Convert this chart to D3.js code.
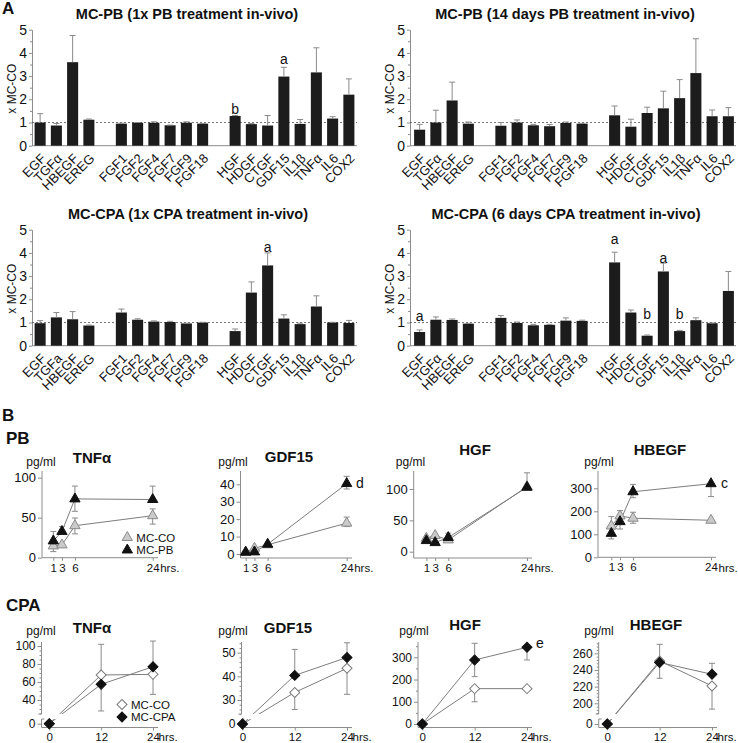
<!DOCTYPE html>
<html><head><meta charset="utf-8">
<script src="https://cdn.jsdelivr.net/npm/d3@7"></script>
<style>body{margin:0;background:#fff}svg{display:block}</style>
</head><body>
<svg id="c" width="738" height="743"></svg>
<script>
// ================= DATA =================
const catsGF = ["EGF","TGFα","HBEGF","EREG"];
const catsFGF = ["FGF1","FGF2","FGF4","FGF7","FGF9","FGF18"];
const catsOther = ["HGF","HDGF","CTGF","GDF15","IL1β","TNFα","IL6","COX2"];
const categories = [...catsGF, ...catsFGF, ...catsOther];
const labelsCPA1 = ["EGF","TGFa","HBEGF","EREG", ...catsFGF, ...catsOther];
const yTicksA = [0,1,2,3,4,5];

const pb1Values = [1.0,0.87,3.6,1.12, 0.95,0.99,0.99,0.88,0.99,0.95, 1.28,0.93,0.87,2.98,0.94,3.16,1.17,2.2];
const pb1Errors = [0.38,0.09,1.15,0.03, 0.02,0.01,0.04,0.01,0.04,0.01, 0.02,0.03,0.43,0.40,0.19,1.06,0.08,0.68];
const pb1Notes = [{cat:"HGF",text:"b",level:1.37},{cat:"GDF15",text:"a",level:3.51}];

const pb14Values = [0.69,1.0,1.95,0.95, 0.86,1.0,0.88,0.84,0.98,0.95, 1.31,0.82,1.41,1.61,2.05,3.13,1.27,1.27];
const pb14Errors = [0.23,0.53,0.79,0.07, 0.14,0.11,0.04,0.07,0.04,0.01, 0.40,0.32,0.25,0.74,0.80,1.48,0.27,0.37];

const cpa1Values = [0.97,1.22,1.14,0.87, 1.43,1.12,1.04,1.02,0.96,1.0, 0.63,2.29,3.46,1.17,0.93,1.69,1.0,0.98];
const cpa1Errors = [0.11,0.21,0.33,0.02, 0.15,0.04,0.03,0.03,0.01,0.01, 0.09,0.46,0.54,0.16,0.04,0.46,0.01,0.11];
const cpa1Notes = [{cat:"CTGF",text:"a",level:4.05}];

const cpa6Values = [0.59,1.12,1.11,0.95, 1.2,0.98,0.88,0.9,1.08,1.07, 3.59,1.43,0.43,3.2,0.63,1.1,0.97,2.36];
const cpa6Errors = [0.09,0.12,0.04,0.01, 0.1,0.04,0.04,0.02,0.12,0.03, 0.44,0.11,0.03,0.36,0.03,0.1,0.01,0.84];
const cpa6Notes = [{cat:"EGF",text:"a",level:1.08},{cat:"HGF",text:"a",level:4.38},{cat:"CTGF",text:"b",level:1.14},{cat:"GDF15",text:"a",level:3.58},{cat:"IL1β",text:"b",level:1.14}];

// time courses
const pbHours = [1,3,6,24];
const cpaHours = [0,12,24];

const pbTnfCO = [14.7,16,40,52.5], pbTnfCOLo = [7.6,null,29.8,42], pbTnfCOHi = [null,null,49.6,61];
const pbTnfPB = [21,32.8,73.5,72.7], pbTnfPBLo = [null,null,58,null], pbTnfPBHi = [32.8,39,89.5,89.5];

const pbGdfCO = [1.2,3.3,5.3,17.7], pbGdfCOLo = [null,null,null,15.8], pbGdfCOHi = [null,null,null,21.2];
const pbGdfPB = [1.0,1.2,5.6,40.4], pbGdfPBLo = [null,null,null,37.3], pbGdfPBHi = [null,null,null,44.6];

const pbHgfCO = [21.5,25.8,18.8,103.8], pbHgfCOLo = [null,null,null,null], pbHgfCOHi = [null,null,null,125.8];
const pbHgfPB = [17.7,14.5,22.6,102.7], pbHgfPBLo = [null,null,null,null], pbHgfPBHi = [null,null,29.6,null];

const pbHbCO = [136,180,170,161], pbHbCOLo = [null,null,148,null], pbHbCOHi = [177,203,196,null];
const pbHbPB = [104,155,285,320], pbHbPBLo = [80,123,259,264], pbHbPBHi = [null,null,317,null];

const cpaTnfCO = [0,67.8,68.5], cpaTnfCOLo = [null,null,46.3], cpaTnfCOHi = [null,101.9,null];
const cpaTnfCPA = [0,57.4,77], cpaTnfCPALo = [null,27.8,null], cpaTnfCPAHi = [null,null,105.5];

const cpaGdfCO = [0,33.2,43.4], cpaGdfCOLo = [null,26,32.4], cpaGdfCOHi = [null,null,null];
const cpaGdfCPA = [0,40.4,48], cpaGdfCPALo = [null,null,null], cpaGdfCPAHi = [null,51.4,54.2];

const cpaHgfCO = [0,159,159], cpaHgfCOLo = [null,100,null], cpaHgfCOHi = [null,null,null];
const cpaHgfCPA = [0,288,345], cpaHgfCPALo = [null,213,288], cpaHgfCPAHi = [null,363,null];

const cpaHbCO = [0,250.8,220.8], cpaHbCOLo = [null,null,193], cpaHbCOHi = [null,null,null];
const cpaHbCPA = [0,249,234.8], cpaHbCPALo = [null,230,null], cpaHbCPAHi = [null,270.8,248];

// ================= DRAW =================
const FONT = '"Liberation Sans", Arial, Helvetica, sans-serif';
const AX = "#8c8c8c";
const svg = d3.select("#c").attr("font-family", FONT);
const defs = svg.append("defs");
const slots = [...catsGF, "_g1", ...catsFGF, "_g2", ...catsOther];
const fmt = d3.format("~g");

function txt(g, x, y, s, o = {}) {
  return g.append("text").attr("x", x).attr("y", y).text(s)
    .attr("font-size", o.size || 12).attr("font-weight", o.bold ? "bold" : null)
    .attr("text-anchor", o.anchor || "middle").attr("fill", o.fill || "#111");
}
function styleAxisText(sel, size) {
  sel.selectAll("text").attr("font-size", size).attr("font-family", FONT).attr("fill", "#111");
}

function barPanel(p) {
  const g = svg.append("g");
  const x = d3.scaleBand().domain(slots).range([p.x0, p.x0 + 325]).paddingInner(0.32).paddingOuter(0.16);
  const y = d3.scaleLinear().domain([0, 5]).range([p.yBase, p.yBase - 116]);
  const bw = x.bandwidth();
  g.append("g").attr("transform", `translate(${p.axisX},0)`).attr("color", AX)
    .call(d3.axisLeft(y).tickValues(d3.range(0.5, 5, 1)).tickSize(2).tickFormat(""))
    .call(s => s.select(".domain").remove());
  const ya = g.append("g").attr("transform", `translate(${p.axisX},0)`).attr("color", AX)
    .call(d3.axisLeft(y).tickValues(yTicksA).tickFormat(fmt).tickSize(3).tickSizeOuter(0).tickPadding(2));
  styleAxisText(ya, 14);
  g.append("line").attr("x1", p.axisX).attr("x2", p.xEnd).attr("y1", y(0)).attr("y2", y(0)).attr("stroke", AX);
  g.append("line").attr("x1", p.axisX).attr("x2", p.xEnd).attr("y1", y(1)).attr("y2", y(1))
    .attr("stroke", "#555").attr("stroke-width", 0.8).attr("stroke-dasharray", "2,2");
  const data = categories.map((c, i) => ({c, v: p.values[i], e: p.errors[i], lab: p.labels[i]}));
  g.selectAll("rect.bar").data(data).join("rect").attr("class", "bar")
    .attr("x", d => x(d.c)).attr("width", bw)
    .attr("y", d => y(d.v)).attr("height", d => y(0) - y(d.v)).attr("fill", "#1c1c1c");
  const eb = g.append("g").attr("stroke", "#8a8a8a").attr("stroke-width", 1);
  data.forEach(d => {
    const cx = x(d.c) + bw / 2;
    eb.append("line").attr("x1", cx).attr("x2", cx).attr("y1", y(d.v)).attr("y2", y(d.v + d.e));
    eb.append("line").attr("x1", cx - 3).attr("x2", cx + 3).attr("y1", y(d.v + d.e)).attr("y2", y(d.v + d.e));
  });
  data.forEach(d => {
    const cx = x(d.c) + bw / 2;
    g.append("text").attr("transform", `translate(${cx + 1},${p.yBase + 8}) rotate(-45)`)
      .attr("text-anchor", "end").attr("dy", "0.6em").attr("font-size", 13).attr("fill", "#111").text(d.lab);
  });
  (p.notes || []).forEach(n => txt(g, x(n.cat) + bw / 2, y(n.level), n.text, {size: 14}));
  txt(g, p.titleX, p.yBase - 127, p.title, {size: 14.5, bold: true});
  g.append("text").attr("transform", `translate(${p.axisX - 16},${p.yBase - 57}) rotate(-90)`)
    .attr("text-anchor", "middle").attr("font-size", 12).attr("fill", "#111").text("x MC-CO");
}

barPanel({x0: 32, axisX: 32, xEnd: 357, yBase: 145.7, titleX: 187, title: "MC-PB (1x PB treatment in-vivo)",
  labels: categories, values: pb1Values, errors: pb1Errors, notes: pb1Notes});
barPanel({x0: 411.5, axisX: 410, xEnd: 736, yBase: 145.7, titleX: 565, title: "MC-PB (14 days PB treatment in-vivo)",
  labels: categories, values: pb14Values, errors: pb14Errors, notes: []});
barPanel({x0: 32, axisX: 32, xEnd: 357, yBase: 345.7, titleX: 188, title: "MC-CPA (1x CPA treatment in-vivo)",
  labels: labelsCPA1, values: cpa1Values, errors: cpa1Errors, notes: cpa1Notes});
barPanel({x0: 411.5, axisX: 410, xEnd: 736, yBase: 345.7, titleX: 566, title: "MC-CPA (6 days CPA treatment in-vivo)",
  labels: categories, values: cpa6Values, errors: cpa6Errors, notes: cpa6Notes});

// ---- line charts ----
const triSym = d3.symbol(d3.symbolTriangle, 46);
const diaSym = d3.symbol(d3.symbolSquare, 50);
const COtri = {sym: "tri", fill: "#cacaca", stroke: "#8a8a8a"};
const TRtri = {sym: "tri", fill: "#111", stroke: "#111"};
const COdia = {sym: "dia", fill: "#fff", stroke: "#7a7a7a"};
const TRdia = {sym: "dia", fill: "#111", stroke: "#111"};

function marker(g, st, px, py) {
  const p = g.append("path").attr("d", st.sym === "tri" ? triSym() : diaSym())
    .attr("fill", st.fill).attr("stroke", st.stroke).attr("stroke-width", 1);
  p.attr("transform", `translate(${px},${py})` + (st.sym === "dia" ? " rotate(45)" : ""));
}

let clipN = 0;
function lineChart(c) {
  const g = svg.append("g");
  const x = d3.scaleLinear().domain([0, 24]).range([c.x0, c.x24]);
  let yUp, yMap, yLow = null;
  yUp = d3.scaleLinear().domain(c.yDom).range(c.yRng);
  if (c.zeroY) {
    yLow = d3.scaleLinear().domain([0, 1]).range([c.zeroY, c.zeroY - 1]);
    yMap = v => (v < c.yDom[0] * 0.5 ? yLow(v) : yUp(v));
  } else yMap = yUp;

  const ax = g.append("g").attr("transform", `translate(${c.axisX},0)`).attr("color", AX);
  ax.call(d3.axisLeft(yUp).tickValues(c.ticks).tickFormat(fmt).tickSize(4).tickSizeOuter(0).tickPadding(2));
  ax.select(".domain").remove();
  if (c.minor) {
    const mn = ax.append("g").call(d3.axisLeft(yUp).tickValues(c.minor).tickSize(2).tickFormat(""));
    mn.select(".domain").remove();
  }
  if (yLow) {
    const lw = ax.append("g").call(d3.axisLeft(yLow).tickValues([0]).tickFormat(fmt).tickSize(4).tickSizeOuter(0).tickPadding(2));
    lw.select(".domain").remove();
    g.append("line").attr("x1", c.axisX).attr("x2", c.axisX).attr("y1", c.topY).attr("y2", c.upBottom).attr("stroke", AX);
    g.append("line").attr("x1", c.axisX).attr("x2", c.axisX).attr("y1", c.lowTop).attr("y2", c.xAxisY).attr("stroke", AX);
    g.append("line").attr("x1", c.axisX).attr("x2", c.axisX + 3).attr("y1", c.lowTop).attr("y2", c.lowTop).attr("stroke", AX);
    g.append("line").attr("x1", c.axisX - 3).attr("x2", c.axisX).attr("y1", c.upBottom).attr("y2", c.upBottom).attr("stroke", AX);
  } else {
    g.append("line").attr("x1", c.axisX).attr("x2", c.axisX).attr("y1", c.topY).attr("y2", c.xAxisY).attr("stroke", AX);
  }
  styleAxisText(ax, c.fs);

  const xa = g.append("g").attr("transform", `translate(0,${c.xAxisY})`).attr("color", AX)
    .call(d3.axisBottom(x).tickValues(c.hours).tickSize(3).tickSizeOuter(0).tickPadding(c.xpad));
  xa.select(".domain").attr("d", `M${c.axisX},0H${c.xEnd}`);
  styleAxisText(xa, c.xfs);
  txt(g, x(24) + c.hrsDx, c.xAxisY + c.xpad + 3 + c.xfs * 0.72, "hrs.", {size: c.xfs, anchor: "start"});

  let lg = g.append("g");
  if (yLow) {
    const id = "brk" + (clipN++);
    const cp = defs.append("clipPath").attr("id", id);
    cp.append("rect").attr("x", 0).attr("y", 0).attr("width", 738).attr("height", c.upBottom);
    cp.append("rect").attr("x", 0).attr("y", c.lowTop).attr("width", 738).attr("height", 743 - c.lowTop);
    lg.attr("clip-path", `url(#${id})`);
  }
  const line = d3.line().x(d => x(d.h)).y(d => yMap(d.v));
  c.series.forEach(s => {
    const pts = c.hours.map((h, i) => ({h, v: s.vals[i]}));
    lg.append("path").datum(pts).attr("d", line).attr("fill", "none").attr("stroke", "#7d7d7d").attr("stroke-width", 1);
  });
  const eb = g.append("g").attr("stroke", "#8a8a8a").attr("stroke-width", 1);
  c.series.forEach(s => {
    c.hours.forEach((h, i) => {
      [s.lo[i], s.hi[i]].forEach(b => {
        if (b == null) return;
        const px = x(h);
        eb.append("line").attr("x1", px).attr("x2", px).attr("y1", yMap(s.vals[i])).attr("y2", yMap(b));
        eb.append("line").attr("x1", px - 3).attr("x2", px + 3).attr("y1", yMap(b)).attr("y2", yMap(b));
      });
    });
  });
  c.series.forEach(s => c.hours.forEach((h, i) => marker(g, s.style, x(h), yMap(s.vals[i]))));

  txt(g, c.titleX, c.titleY, c.title, {size: 15, bold: true});
  txt(g, c.pgX, c.pgY, "pg/ml", {size: 12});
  if (c.note) txt(g, c.note.x, c.note.y, c.note.text, {size: 14, anchor: "start"});
  if (c.legend) {
    c.legend.forEach(l => {
      marker(g, l.style, l.x, l.y);
      txt(g, l.x + 9, l.y + 4, l.text, {size: 11.5, anchor: "start"});
    });
  }
}

const pbBase = {hours: pbHours, topY: 471, xfs: 11.5, fs: 13, xpad: 3, hrsDx: 7.5};
lineChart({...pbBase, axisX: 42, x0: 49, x24: 152.7, xEnd: 158, xAxisY: 557.7,
  yDom: [0, 100], yRng: [557.7, 477.7], ticks: [0, 50, 100],
  title: "TNFα", titleX: 92, titleY: 463, pgX: 41, pgY: 466,
  series: [{vals: pbTnfCO, lo: pbTnfCOLo, hi: pbTnfCOHi, style: COtri},
           {vals: pbTnfPB, lo: pbTnfPBLo, hi: pbTnfPBHi, style: TRtri}],
  legend: [{style: COtri, x: 127.3, y: 537.5, text: "MC-CO"}, {style: TRtri, x: 127.3, y: 550, text: "MC-PB"}]});
lineChart({...pbBase, axisX: 240.5, x0: 241.3, x24: 346.7, xEnd: 352, xAxisY: 558,
  yDom: [0, 40], yRng: [554, 484.3], ticks: [0, 10, 20, 30, 40],
  title: "GDF15", titleX: 289, titleY: 462, pgX: 233, pgY: 466,
  series: [{vals: pbGdfCO, lo: pbGdfCOLo, hi: pbGdfCOHi, style: COtri},
           {vals: pbGdfPB, lo: pbGdfPBLo, hi: pbGdfPBHi, style: TRtri}],
  note: {x: 356, y: 488, text: "d"}});
lineChart({...pbBase, axisX: 413.7, x0: 422, x24: 527, xEnd: 532, xAxisY: 558,
  yDom: [0, 100], yRng: [551.7, 489], ticks: [0, 50, 100],
  title: "HGF", titleX: 475, titleY: 455, pgX: 410.5, pgY: 466,
  series: [{vals: pbHgfCO, lo: pbHgfCOLo, hi: pbHgfCOHi, style: COtri},
           {vals: pbHgfPB, lo: pbHgfPBLo, hi: pbHgfPBHi, style: TRtri}]});
lineChart({...pbBase, axisX: 598, x0: 607, x24: 711, xEnd: 716, xAxisY: 557.3,
  yDom: [0, 300], yRng: [557.3, 488.3], ticks: [0, 100, 200, 300],
  title: "HBEGF", titleX: 660, titleY: 455, pgX: 599, pgY: 466,
  series: [{vals: pbHbCO, lo: pbHbCOLo, hi: pbHbCOHi, style: COtri},
           {vals: pbHbPB, lo: pbHbPBLo, hi: pbHbPBHi, style: TRtri}],
  note: {x: 721, y: 488, text: "c"}});

const cpaBase = {hours: cpaHours, topY: 642, xfs: 11.5, fs: 12, xpad: 2, hrsDx: 5.5, xAxisY: 727.5, upBottom: 714, lowTop: 719};
lineChart({...cpaBase, axisX: 41.5, x0: 49.3, x24: 153, xEnd: 158,
  yDom: [40, 100], yRng: [700, 646], zeroY: 723.7, ticks: [40, 60, 80, 100],
  minor: d3.range(25, 105, 5).filter(v => v % 20 !== 0),
  title: "TNFα", titleX: 92, titleY: 633, pgX: 41, pgY: 635,
  series: [{vals: cpaTnfCO, lo: cpaTnfCOLo, hi: cpaTnfCOHi, style: COdia},
           {vals: cpaTnfCPA, lo: cpaTnfCPALo, hi: cpaTnfCPAHi, style: TRdia}],
  legend: [{style: COdia, x: 122, y: 704.5, text: "MC-CO"}, {style: TRdia, x: 122, y: 717, text: "MC-CPA"}]});
lineChart({...cpaBase, axisX: 241.5, x0: 242.5, x24: 347, xEnd: 352,
  yDom: [30, 50], yRng: [700, 652.7], zeroY: 724, ticks: [30, 40, 50],
  minor: d3.range(24, 55, 2).filter(v => v % 10 !== 0),
  title: "GDF15", titleX: 288, titleY: 633, pgX: 233, pgY: 635,
  series: [{vals: cpaGdfCO, lo: cpaGdfCOLo, hi: cpaGdfCOHi, style: COdia},
           {vals: cpaGdfCPA, lo: cpaGdfCPALo, hi: cpaGdfCPAHi, style: TRdia}]});
lineChart({...cpaBase, axisX: 418, x0: 422.3, x24: 527, xEnd: 532,
  yDom: [0, 300], yRng: [724, 657.3], ticks: [0, 100, 200, 300],
  minor: d3.range(50, 360, 100),
  title: "HGF", titleX: 465, titleY: 630, pgX: 414, pgY: 635,
  series: [{vals: cpaHgfCO, lo: cpaHgfCOLo, hi: cpaHgfCOHi, style: COdia},
           {vals: cpaHgfCPA, lo: cpaHgfCPALo, hi: cpaHgfCPAHi, style: TRdia}],
  note: {x: 536, y: 648, text: "e"}});
lineChart({...cpaBase, axisX: 598.7, x0: 607.3, x24: 712, xEnd: 717,
  yDom: [200, 260], yRng: [703.3, 653.3], zeroY: 724, ticks: [200, 220, 240, 260],
  minor: d3.range(188, 274, 4).filter(v => v % 20 !== 0),
  title: "HBEGF", titleX: 656, titleY: 630, pgX: 599, pgY: 635,
  series: [{vals: cpaHbCO, lo: cpaHbCOLo, hi: cpaHbCOHi, style: COdia},
           {vals: cpaHbCPA, lo: cpaHbCPALo, hi: cpaHbCPAHi, style: TRdia}]});

// section letters
txt(svg, 2, 14, "A", {size: 17, bold: true, anchor: "start"});
txt(svg, 2, 421, "B", {size: 17, bold: true, anchor: "start"});
txt(svg, 6, 444, "PB", {size: 17, bold: true, anchor: "start"});
txt(svg, 6, 611, "CPA", {size: 17, bold: true, anchor: "start"});
</script>
</body></html>
